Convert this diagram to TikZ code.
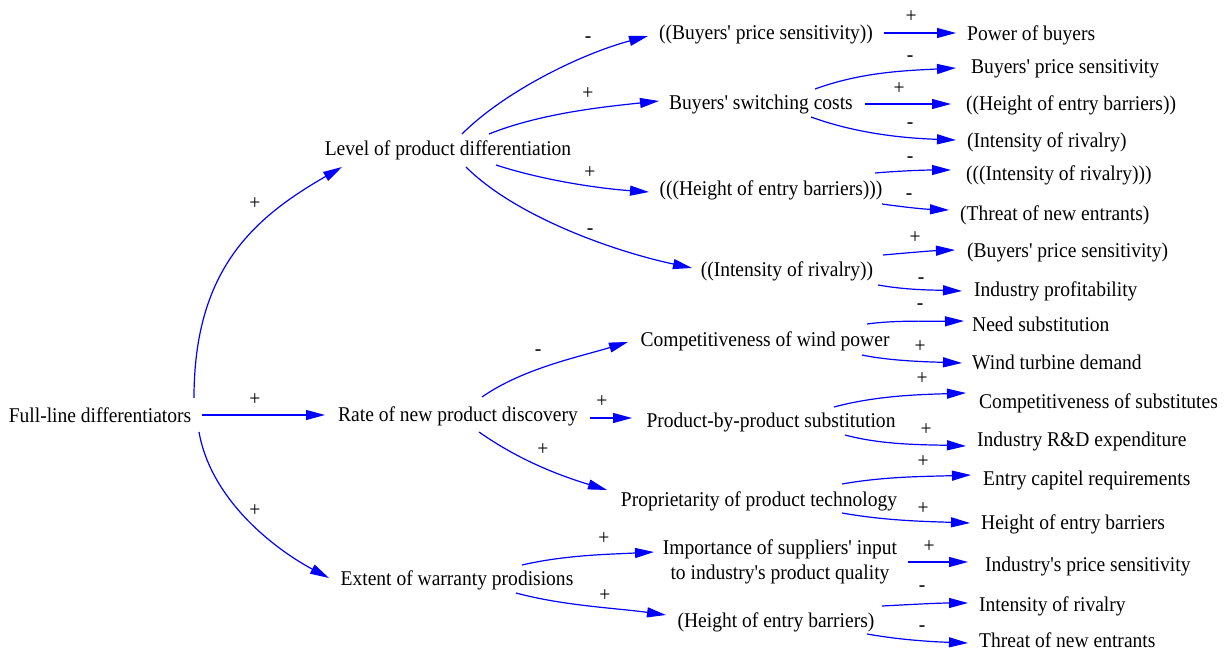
\documentclass[tikz,border=0pt]{standalone}
\usepackage{fontspec}
\setmainfont{Liberation Serif}[Ligatures=TeXOff, FakeStretch=0.93]
\usetikzlibrary{arrows.meta}
\definecolor{linkblue}{RGB}{0,0,255}
\begin{document}
\begin{tikzpicture}[x=1pt,y=1pt,
  var/.style={inner sep=0pt, text height=16pt, text depth=3pt, font=\fontsize{21}{24}\selectfont},
  leaf/.style={var, anchor=west},
  twoline/.style={inner sep=0pt, align=center, font=\fontsize{21}{25}\selectfont},
  sign/.style={var},
  link/.style={draw=linkblue, line width=1.2pt, -{Triangle[length=19pt,width=10pt]}},
]
\useasboundingbox (0,0) rectangle (1227,-650);

% causes
\node[var] (full) at (100,-416) {Full-line differentiators};
\node[var] (lvl)  at (448,-149) {Level of product differentiation};
\node[var] (rate) at (458,-415) {Rate of new product discovery};
\node[var] (ext)  at (457,-579) {Extent of warranty prodisions};

% second ring
\node[var] (bpsB) at (766,-33)  {((Buyers' price sensitivity))};
\node[var] (bsc)  at (761,-103) {Buyers' switching costs};
\node[var] (hoeC) at (771,-189) {(((Height of entry barriers)))};
\node[var] (iorB) at (787,-270) {((Intensity of rivalry))};
\node[var] (cwp)  at (765,-340) {Competitiveness of wind power};
\node[var] (pbp)  at (771,-421) {Product-by-product substitution};
\node[var] (prop) at (759,-500) {Proprietarity of product technology};
\node[twoline] (imp) at (780,-562) {Importance of suppliers' input\\to industry's product quality};
\node[var] (hoeA) at (776,-621) {(Height of entry barriers)};

% effects
\node[leaf] (pob)  at (967,-34)  {Power of buyers};
\node[leaf] (bpsC) at (971,-67)  {Buyers' price sensitivity};
\node[leaf] (hoeB) at (966,-104) {((Height of entry barriers))};
\node[leaf] (iorA) at (967,-141) {(Intensity of rivalry)};
\node[leaf] (iorC) at (966,-174) {(((Intensity of rivalry)))};
\node[leaf] (tneA) at (960,-214) {(Threat of new entrants)};
\node[leaf] (bpsA) at (967,-251) {(Buyers' price sensitivity)};
\node[leaf] (prof) at (974,-290) {Industry profitability};
\node[leaf] (need) at (972,-325) {Need substitution};
\node[leaf] (wtd)  at (972,-363) {Wind turbine demand};
\node[leaf] (cos)  at (979,-402) {Competitiveness of substitutes};
\node[leaf] (rd)   at (977,-440) {Industry R\&D expenditure};
\node[leaf] (ecr)  at (983,-479) {Entry capitel requirements};
\node[leaf] (heb)  at (981,-523) {Height of entry barriers};
\node[leaf] (ips)  at (985,-565) {Industry's price sensitivity};
\node[leaf] (ior)  at (979,-605) {Intensity of rivalry};
\node[leaf] (tne)  at (979,-641) {Threat of new entrants};

% first level links
\draw[link] ([shift={(94,18)}]full.center) .. controls +(90:130) and +(210:100) .. ([shift={(-106,-18)}]lvl.center);
\draw[link] ([shift={(102,1)}]full.center) -- ([shift={(-133,0)}]rate.center);
\draw[link] ([shift={(99,-16)}]full.center) .. controls +(-80:70) and +(152:60) .. ([shift={(-128,1)}]ext.center);

% second level links
\draw[link] ([shift={(14,15)}]lvl.center) .. controls +(45:60) and +(195:70) .. ([shift={(-118,-3)}]bpsB.center);
\draw[link] ([shift={(41,15)}]lvl.center) .. controls +(22:55) and +(186:55) .. ([shift={(-102,2)}]bsc.center);
\draw[link] ([shift={(48,-16)}]lvl.center) .. controls +(-18:50) and +(176:50) .. ([shift={(-122,-3)}]hoeC.center);
\draw[link] ([shift={(18,-18)}]lvl.center) .. controls +(-45:70) and +(168:80) .. ([shift={(-95,2)}]iorB.center);
\draw[link] ([shift={(24,18)}]rate.center) .. controls +(35:50) and +(197:50) .. ([shift={(-137,-2)}]cwp.center);
\draw[link] ([shift={(132,-3)}]rate.center) -- ([shift={(-139,3)}]pbp.center);
\draw[link] ([shift={(21,-17)}]rate.center) .. controls +(-35:50) and +(163:50) .. ([shift={(-152,10)}]prop.center);
\draw[link] ([shift={(65,14)}]ext.center) .. controls +(13:45) and +(183:45) .. ([shift={(-126,10)}]imp.center);
\draw[link] ([shift={(59,-14)}]ext.center) .. controls +(-15:50) and +(172:50) .. ([shift={(-110,6)}]hoeA.center);

% third level links
\draw[link] ([shift={(118,0)}]bpsB.center) -- ([shift={(-11,1)}]pob.west);
\draw[link] ([shift={(54,14)}]bsc.center) .. controls +(20:50) and +(183:50) .. ([shift={(-15,-1)}]bpsC.west);
\draw[link] ([shift={(104,-1)}]bsc.center) -- ([shift={(-15,0)}]hoeB.west);
\draw[link] ([shift={(50,-14)}]bsc.center) .. controls +(-20:50) and +(178:50) .. ([shift={(-11,1)}]iorA.west);
\draw[link] ([shift={(104,16)}]hoeC.center) .. controls +(5:25) and +(180:25) .. ([shift={(-15,4)}]iorC.west);
\draw[link] ([shift={(111,-15)}]hoeC.center) .. controls +(-8:25) and +(178:25) .. ([shift={(-11,4)}]tneA.west);
\draw[link] ([shift={(96,15)}]iorB.center) .. controls +(5:25) and +(182:25) .. ([shift={(-12,1)}]bpsA.west);
\draw[link] ([shift={(91,-15)}]iorB.center) .. controls +(-10:30) and +(178:30) .. ([shift={(-12,-1)}]prof.west);
\draw[link] ([shift={(102,16)}]cwp.center) .. controls +(8:30) and +(181:30) .. ([shift={(-8,4)}]need.west);
\draw[link] ([shift={(97,-15)}]cwp.center) .. controls +(-12:30) and +(178:30) .. ([shift={(-10,0)}]wtd.west);
\draw[link] ([shift={(63,14)}]pbp.center) .. controls +(15:45) and +(182:45) .. ([shift={(-13,9)}]cos.west);
\draw[link] ([shift={(74,-14)}]pbp.center) .. controls +(-15:40) and +(178:40) .. ([shift={(-11,-6)}]rd.west);
\draw[link] ([shift={(83,16)}]prop.center) .. controls +(10:45) and +(182:45) .. ([shift={(-12,4)}]ecr.west);
\draw[link] ([shift={(83,-13)}]prop.center) .. controls +(-10:45) and +(178:45) .. ([shift={(-11,0)}]heb.west);
\draw[link] ([shift={(128,0)}]imp.center) -- ([shift={(-17,3)}]ips.west);
\draw[link] ([shift={(106,15)}]hoeA.center) .. controls +(3:30) and +(180:30) .. ([shift={(-11,2)}]ior.west);
\draw[link] ([shift={(91,-13)}]hoeA.center) .. controls +(-10:35) and +(178:35) .. ([shift={(-11,-2)}]tne.west);

% polarity signs
\node[sign] (p1)  at (255,-203) {+};
\node[sign] (p2)  at (255,-399) {+};
\node[sign] (p3)  at (255,-510) {+};
\node[sign] (p4)  at (588,-36)  {-};
\node[sign] (p5)  at (588,-93)  {+};
\node[sign] (p6)  at (590,-172) {+};
\node[sign] (p7)  at (590,-228) {-};
\node[sign] (p8)  at (538,-349) {-};
\node[sign] (p9)  at (602,-401) {+};
\node[sign] (p10) at (543,-449) {+};
\node[sign] (p11) at (604,-538) {+};
\node[sign] (p12) at (605,-595) {+};
\node[sign] (p13) at (911,-16)  {+};
\node[sign] (p14) at (910,-55)  {-};
\node[sign] (p15) at (899,-88)  {+};
\node[sign] (p16) at (910,-122) {-};
\node[sign] (p17) at (910,-156) {-};
\node[sign] (p18) at (909,-193) {-};
\node[sign] (p19) at (915,-237) {+};
\node[sign] (p20) at (921,-277) {-};
\node[sign] (p21) at (920,-303) {-};
\node[sign] (p22) at (920,-346) {+};
\node[sign] (p23) at (922,-378) {+};
\node[sign] (p24) at (926,-429) {+};
\node[sign] (p25) at (923,-461) {+};
\node[sign] (p26) at (923,-508) {+};
\node[sign] (p27) at (929,-546) {+};
\node[sign] (p28) at (922,-585) {-};
\node[sign] (p29) at (922,-625) {-};
\end{tikzpicture}
\end{document}
